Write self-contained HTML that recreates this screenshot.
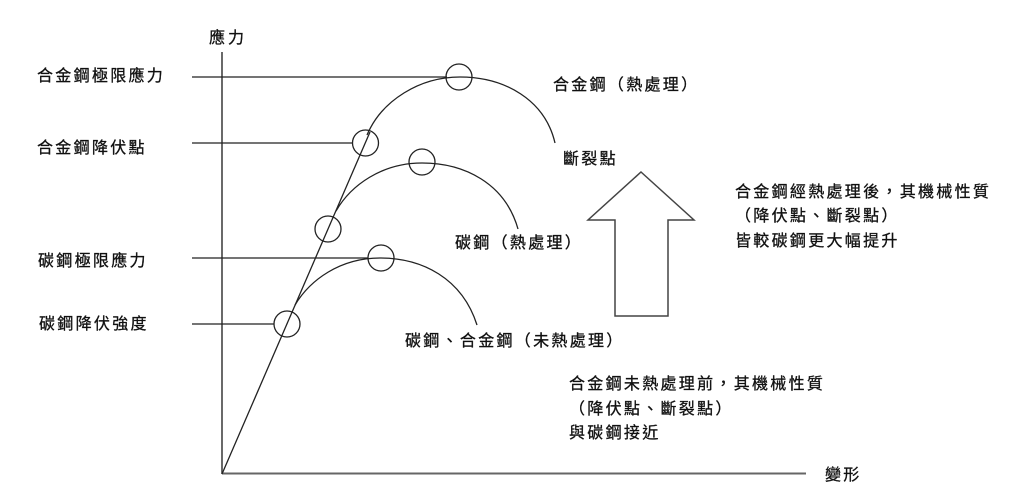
<!DOCTYPE html>
<html><head><meta charset="utf-8"><style>
html,body{margin:0;padding:0;background:#fff;}
svg{display:block;}
text{font-family:"Liberation Sans","Noto Sans CJK TC",sans-serif;font-size:16px;letter-spacing:2.3px;fill:#111;stroke:#111;stroke-width:0.3px;}
</style></head><body>
<svg width="1024" height="494" viewBox="0 0 1024 494" xmlns="http://www.w3.org/2000/svg">
<g fill="none" stroke="#222" stroke-width="1.3">
<!-- axes -->
<line x1="222" y1="52" x2="222" y2="474" stroke="#444" stroke-width="1.6"/>
<line x1="222" y1="473.5" x2="806" y2="473.5" stroke="#666" stroke-width="2"/>
<!-- guide lines -->
<line x1="192" y1="77" x2="447" y2="77"/>
<line x1="192" y1="143" x2="352" y2="143"/>
<line x1="192" y1="258" x2="368" y2="258"/>
<line x1="192" y1="324" x2="274" y2="324"/>
<!-- diagonal -->
<line x1="222" y1="474" x2="370" y2="132"/>
<!-- top arc -->
<path d="M367,135 C382,100 420,77 460,77 C505,77 545,100 555,143"/>
<!-- middle arc -->
<path d="M336,211 C351,185 382,163 422,163 C464,163 505,183 518,229"/>
<!-- bottom arc -->
<path d="M295,305 C310,280 340,258 380,258 C422,258 462,278 477,325"/>
<!-- circles -->
<circle cx="459" cy="77" r="13"/>
<circle cx="365.5" cy="143" r="13"/>
<circle cx="422" cy="162" r="13"/>
<circle cx="328" cy="229" r="13"/>
<circle cx="381" cy="258" r="13"/>
<circle cx="287" cy="324" r="13"/>
<!-- arrow -->
<path d="M641,172 L694,220 L668,220 L668,316 L615,316 L615,220 L588,220 Z" stroke="#444" stroke-width="1.5"/>
</g>
<text x="209" y="43" style="letter-spacing:3px">應力</text>
<text x="37" y="81">合金鋼極限應力</text>
<text x="37" y="153">合金鋼降伏點</text>
<text x="38" y="266">碳鋼極限應力</text>
<text x="39" y="329">碳鋼降伏強度</text>
<text x="553" y="90">合金鋼（熱處理）</text>
<text x="563" y="164">斷裂點</text>
<text x="735" y="197">合金鋼經熱處理後，其機械性質</text>
<text x="735" y="221">（降伏點、斷裂點）</text>
<text x="735" y="246">皆較碳鋼更大幅提升</text>
<text x="455" y="248">碳鋼（熱處理）</text>
<text x="405" y="346">碳鋼、合金鋼（未熱處理）</text>
<text x="569" y="389">合金鋼未熱處理前，其機械性質</text>
<text x="569" y="414">（降伏點、斷裂點）</text>
<text x="569" y="438">與碳鋼接近</text>
<text x="825" y="480">變形</text>
</svg>
</body></html>
